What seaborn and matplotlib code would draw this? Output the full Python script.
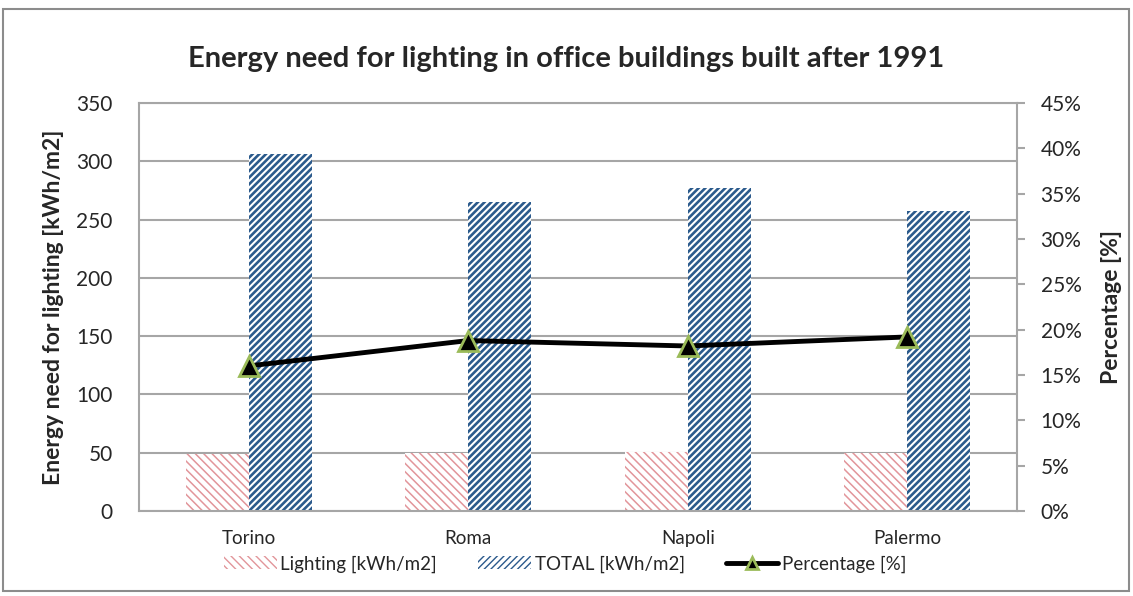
import matplotlib
matplotlib.use("Agg")
import matplotlib.pyplot as plt
import matplotlib.ticker as mtick
from matplotlib.patches import Rectangle
import seaborn as sns
import pandas as pd

# datos
cities = ["Torino", "Roma", "Napoli", "Palermo"]
lighting = [49, 50, 51, 50]
total = [306, 265, 277, 257]
percentage = [0.160, 0.188, 0.182, 0.192]

sns.set_theme(style="white")
plt.rcParams["font.family"] = ["Lato", "DejaVu Sans"]

df = pd.DataFrame({
    "city": cities * 2,
    "value": lighting + total,
    "serie": ["Lighting [kWh/m2]"] * 4 + ["TOTAL [kWh/m2]"] * 4,
})
df_pct = pd.DataFrame({"city": cities, "pct": percentage})

fig = plt.figure(figsize=(11.33, 5.96), dpi=100)
ax = fig.add_axes([139 / 1133, 85 / 596, 878 / 1133, 408 / 596])

sns.barplot(data=df, x="city", y="value", hue="serie", width=0.575, gap=0,
            ax=ax, legend=False, order=cities)

# Estilos de las barras (rayado)
styles = [("#E2959A", "\\\\\\\\", 1.1), ("#2B5A8C", "/////", 1.9)]
for cont, (col, hatch, hlw) in zip(ax.containers, styles):
    for p in cont.patches:
        p.set_facecolor("white")
        p.set_edgecolor(col)
        p.set_hatch(hatch)
        p.set_linewidth(0)
        p.set_hatch_linewidth(hlw)

ax.set_ylim(0, 350)
ax.set_yticks(range(0, 351, 50))
ax.set_xlim(-0.5, 3.5)
ax.yaxis.grid(True, color="#A6A6A6", linewidth=1.5)
ax.set_axisbelow(True)
ax.tick_params(axis="y", length=0, labelsize=15, pad=19)
ax.tick_params(axis="x", length=0, labelsize=13.5, pad=14)
ax.set_xlabel("")
ax.set_ylabel("Energy need for lighting [kWh/m2]", fontsize=16.5, fontweight="bold", labelpad=9)
for s in ["left", "bottom", "top"]:
    ax.spines[s].set_color("#A6A6A6")
    ax.spines[s].set_linewidth(1.5)
ax.spines["right"].set_visible(False)

# Eje secundario con el porcentaje
ax2 = ax.twinx()
sns.pointplot(data=df_pct, x="city", y="pct", order=cities, color="black",
              markers="^", errorbar=None, ax=ax2)
for ln in ax2.lines:
    ln.set_linewidth(3.5)
    ln.set_markersize(15)
    ln.set_markerfacecolor("black")
    ln.set_markeredgecolor("#9BBB59")
    ln.set_markeredgewidth(2)
ax2.set_ylim(0, 0.45)
ax2.set_yticks([i * 0.05 for i in range(10)])
ax2.yaxis.set_major_formatter(mtick.PercentFormatter(1.0, decimals=0))
ax2.set_xlim(-0.5, 3.5)
ax2.tick_params(axis="y", length=6, width=1.5, color="#A6A6A6", labelsize=15, pad=11)
ax2.set_ylabel("Percentage [%]", fontsize=16.5, fontweight="bold", labelpad=14)
ax2.spines["right"].set_color("#A6A6A6")
ax2.spines["right"].set_linewidth(1.5)
for s in ["left", "bottom", "top"]:
    ax2.spines[s].set_visible(False)
ax2.set_xlabel("")

ax.set_title("Energy need for lighting in office buildings built after 1991",
             fontsize=21, fontweight="bold", pad=26, x=(566 - 139) / 878)

# Leyenda
handles = [ax.containers[0].patches[0], ax.containers[1].patches[0], ax2.lines[0]]
labels = ["Lighting [kWh/m2]", "TOTAL [kWh/m2]", "Percentage [%]"]
leg = fig.legend(handles, labels, loc="center", bbox_to_anchor=(0.499, 32 / 596), ncol=3,
                 frameon=False, fontsize=13.5, handlelength=2.8, handletextpad=0.2,
                 columnspacing=2.2, numpoints=1)
for h in leg.legend_handles:
    if hasattr(h, "set_markersize"):
        h.set_markersize(9)

# Borde exterior
fig.patches.append(Rectangle((3 / 1133, 5 / 596), 1126 / 1133, 582 / 596,
                             transform=fig.transFigure, fill=False,
                             edgecolor="#8C8C8C", linewidth=1.5))

fig.savefig("out.png", dpi=100)
